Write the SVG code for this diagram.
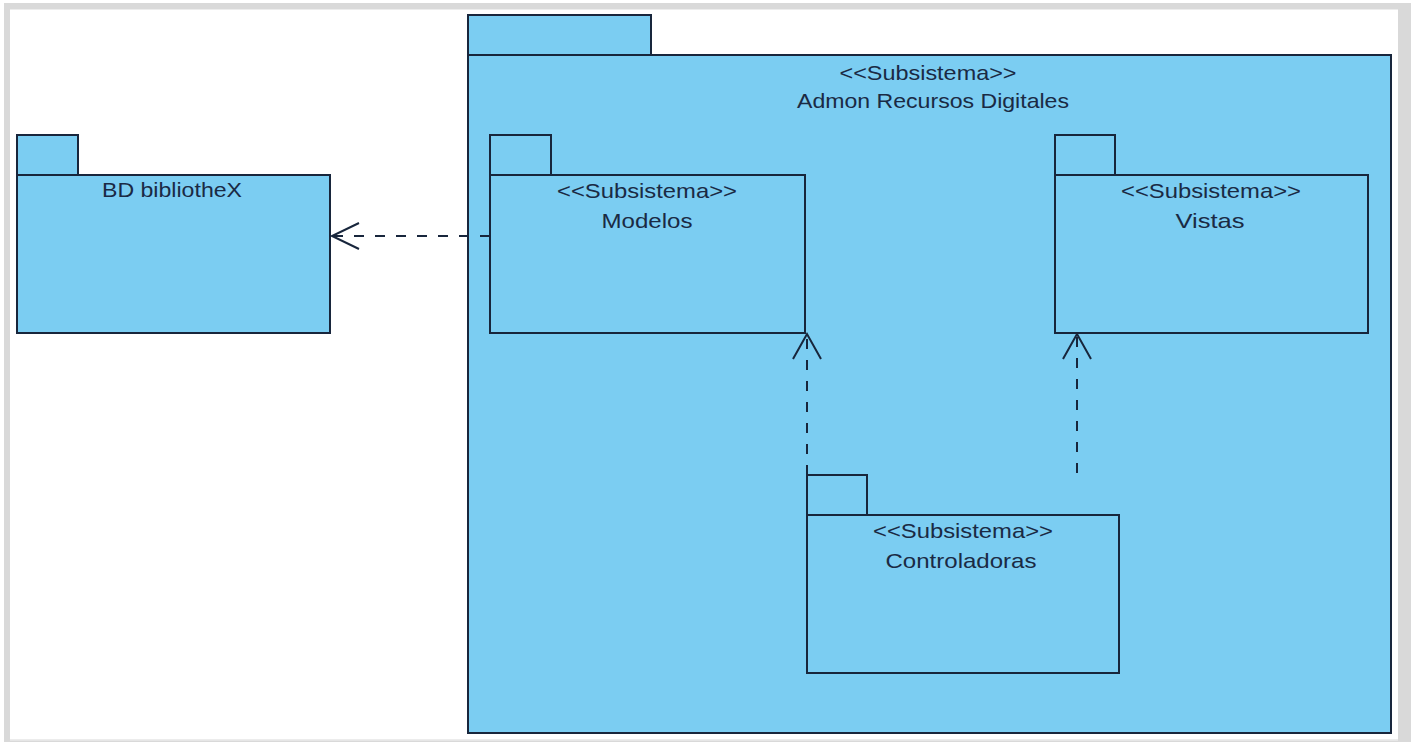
<svg xmlns="http://www.w3.org/2000/svg" width="1411" height="742" viewBox="0 0 1411 742">
<style>
.frame{fill:#d9d9d9}
.pk{fill:#7bcdf2;stroke:#18263c;stroke-width:2}
.t{font-family:"Liberation Sans",Arial,sans-serif;font-size:21px;fill:#1a2a44;text-anchor:middle}
.dep{fill:none;stroke:#18263c;stroke-width:2;stroke-dasharray:10 11}
.head{fill:none;stroke:#18263c;stroke-width:2}
</style>
<rect x="0" y="0" width="1411" height="742" fill="#ffffff"/>
<rect class="frame" x="4" y="3" width="1407" height="739"/>
<rect x="10" y="9.5" width="1388" height="730" fill="#ffffff"/>
<line x1="10" y1="740.5" x2="1398" y2="740.5" stroke="#e6e6e6" stroke-width="1"/>

<g id="admon">
<rect class="pk" x="468" y="15" width="183" height="40"/>
<rect class="pk" x="468" y="55" width="923" height="678"/>
<text class="t" x="928" y="80" textLength="177" lengthAdjust="spacingAndGlyphs">&lt;&lt;Subsistema&gt;&gt;</text>
<text class="t" x="933" y="108" textLength="272" lengthAdjust="spacingAndGlyphs">Admon Recursos Digitales</text>
</g>

<g id="bd">
<rect class="pk" x="17" y="135" width="61" height="40"/>
<rect class="pk" x="17" y="175" width="313" height="158"/>
<text class="t" x="172" y="197" textLength="140" lengthAdjust="spacingAndGlyphs">BD bibliotheX</text>
</g>

<g id="modelos">
<rect class="pk" x="490" y="135" width="61" height="40"/>
<rect class="pk" x="490" y="175" width="315" height="158"/>
<text class="t" x="647" y="198" textLength="180" lengthAdjust="spacingAndGlyphs">&lt;&lt;Subsistema&gt;&gt;</text>
<text class="t" x="647" y="228" textLength="91" lengthAdjust="spacingAndGlyphs">Modelos</text>
</g>

<g id="vistas">
<rect class="pk" x="1055" y="135" width="60" height="40"/>
<rect class="pk" x="1055" y="175" width="313" height="158"/>
<text class="t" x="1211" y="198" textLength="180" lengthAdjust="spacingAndGlyphs">&lt;&lt;Subsistema&gt;&gt;</text>
<text class="t" x="1210" y="228" textLength="69" lengthAdjust="spacingAndGlyphs">Vistas</text>
</g>

<g id="controladoras">
<rect class="pk" x="807" y="475" width="60" height="40"/>
<rect class="pk" x="807" y="515" width="312" height="158"/>
<text class="t" x="963" y="538" textLength="180" lengthAdjust="spacingAndGlyphs">&lt;&lt;Subsistema&gt;&gt;</text>
<text class="t" x="961" y="568" textLength="151" lengthAdjust="spacingAndGlyphs">Controladoras</text>
</g>

<g id="connectors">
<line class="dep" x1="490" y1="236" x2="334" y2="236"/>
<polyline class="head" points="359,223 332,236 359,249"/>
<line class="dep" x1="807" y1="475" x2="807" y2="336"/>
<polyline class="head" points="793,359 807,334 821,359"/>
<line class="dep" x1="1077" y1="473" x2="1077" y2="336"/>
<polyline class="head" points="1063,359 1077,334 1091,359"/>
</g>
</svg>
